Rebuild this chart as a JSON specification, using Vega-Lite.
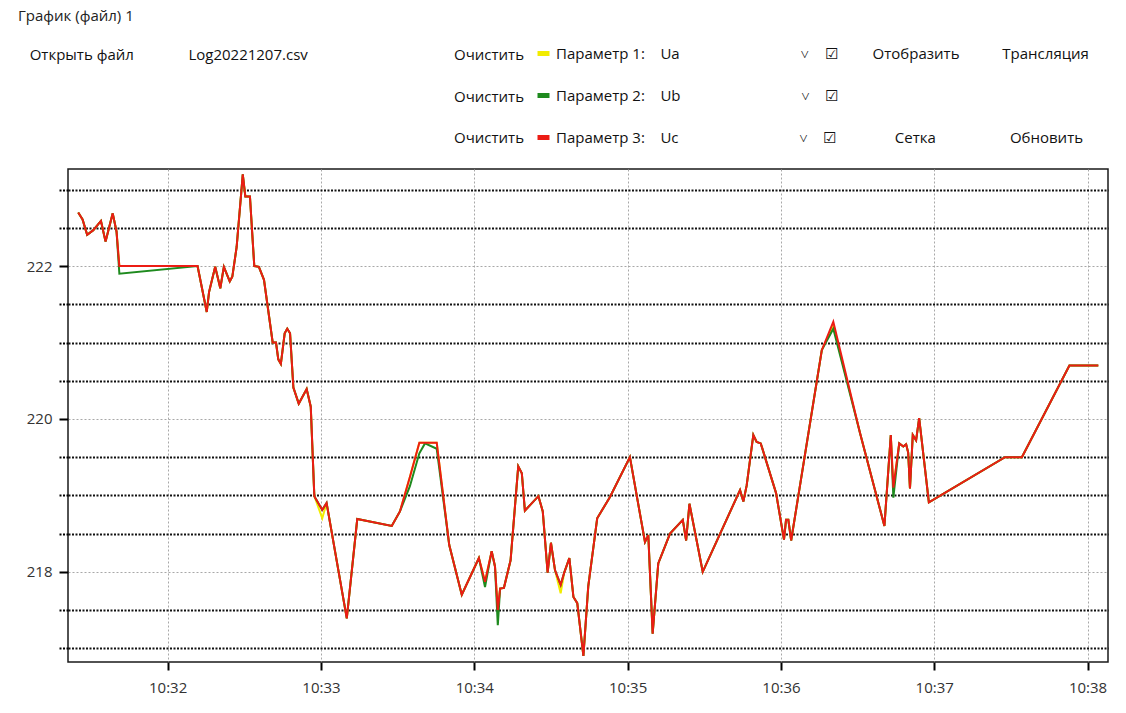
{
  "$schema": "https://vega.github.io/schema/vega-lite/v6.json",
  "width": 1040,
  "height": 493,
  "autosize": {"type": "none"},
  "padding": {"left": 68, "top": 169, "right": 18, "bottom": 51},
  "background": "white",
  "config": {
    "font": "Open Sans",
    "view": {"stroke": "#1a1a1a", "strokeWidth": 1.5}
  },
  "title": {
    "text": "График (файл) 1",
    "subtitle": "\u200b\u00a0\u00a0\u00a0Открыть файл\u00a0\u00a0\u00a0\u00a0\u00a0\u00a0\u00a0\u00a0\u00a0\u00a0\u00a0\u00a0\u00a0\u00a0Log20221207.csv",
    "anchor": "start",
    "frame": "group",
    "dx": -50,
    "offset": -18,
    "font": "Open Sans",
    "fontSize": 15,
    "fontWeight": "normal",
    "color": "#222222",
    "subtitleFont": "Open Sans",
    "subtitleFontSize": 15,
    "subtitleColor": "#111111",
    "subtitlePadding": 24
  },
  "data": {
    "values": [
      {"t": "2022-12-07T10:31:25.000Z", "Ua": 222.70, "Ub": 222.70, "Uc": 222.70},
      {"t": "2022-12-07T10:31:26.700Z", "Ua": 222.61, "Ub": 222.61, "Uc": 222.61},
      {"t": "2022-12-07T10:31:28.500Z", "Ua": 222.41, "Ub": 222.41, "Uc": 222.41},
      {"t": "2022-12-07T10:31:30.900Z", "Ua": 222.47, "Ub": 222.47, "Uc": 222.47},
      {"t": "2022-12-07T10:31:33.900Z", "Ua": 222.59, "Ub": 222.59, "Uc": 222.59},
      {"t": "2022-12-07T10:31:35.700Z", "Ua": 222.32, "Ub": 222.32, "Uc": 222.32},
      {"t": "2022-12-07T10:31:38.500Z", "Ua": 222.69, "Ub": 222.69, "Uc": 222.69},
      {"t": "2022-12-07T10:31:40.000Z", "Ua": 222.45, "Ub": 222.45, "Uc": 222.45},
      {"t": "2022-12-07T10:31:41.100Z", "Ua": 222.00, "Ub": 221.90, "Uc": 222.00},
      {"t": "2022-12-07T10:32:11.700Z", "Ua": 222.00, "Ub": 222.00, "Uc": 222.00},
      {"t": "2022-12-07T10:32:15.300Z", "Ua": 221.40, "Ub": 221.40, "Uc": 221.40},
      {"t": "2022-12-07T10:32:16.200Z", "Ua": 221.66, "Ub": 221.66, "Uc": 221.66},
      {"t": "2022-12-07T10:32:18.600Z", "Ua": 221.99, "Ub": 221.99, "Uc": 221.99},
      {"t": "2022-12-07T10:32:20.600Z", "Ua": 221.71, "Ub": 221.71, "Uc": 221.71},
      {"t": "2022-12-07T10:32:22.000Z", "Ua": 221.99, "Ub": 221.99, "Uc": 221.99},
      {"t": "2022-12-07T10:32:24.300Z", "Ua": 221.80, "Ub": 221.80, "Uc": 221.80},
      {"t": "2022-12-07T10:32:25.300Z", "Ua": 221.86, "Ub": 221.86, "Uc": 221.86},
      {"t": "2022-12-07T10:32:27.000Z", "Ua": 222.25, "Ub": 222.25, "Uc": 222.25},
      {"t": "2022-12-07T10:32:29.400Z", "Ua": 223.20, "Ub": 223.20, "Uc": 223.20},
      {"t": "2022-12-07T10:32:30.400Z", "Ua": 222.91, "Ub": 222.91, "Uc": 222.91},
      {"t": "2022-12-07T10:32:32.200Z", "Ua": 222.91, "Ub": 222.91, "Uc": 222.91},
      {"t": "2022-12-07T10:32:33.900Z", "Ua": 222.00, "Ub": 222.00, "Uc": 222.00},
      {"t": "2022-12-07T10:32:35.700Z", "Ua": 221.99, "Ub": 221.99, "Uc": 221.99},
      {"t": "2022-12-07T10:32:37.700Z", "Ua": 221.82, "Ub": 221.82, "Uc": 221.82},
      {"t": "2022-12-07T10:32:41.100Z", "Ua": 221.00, "Ub": 221.00, "Uc": 221.00},
      {"t": "2022-12-07T10:32:42.400Z", "Ua": 221.00, "Ub": 221.00, "Uc": 221.00},
      {"t": "2022-12-07T10:32:43.300Z", "Ua": 220.78, "Ub": 220.78, "Uc": 220.78},
      {"t": "2022-12-07T10:32:44.300Z", "Ua": 220.72, "Ub": 220.72, "Uc": 220.72},
      {"t": "2022-12-07T10:32:45.800Z", "Ua": 221.12, "Ub": 221.12, "Uc": 221.12},
      {"t": "2022-12-07T10:32:46.800Z", "Ua": 221.18, "Ub": 221.18, "Uc": 221.18},
      {"t": "2022-12-07T10:32:47.900Z", "Ua": 221.12, "Ub": 221.12, "Uc": 221.12},
      {"t": "2022-12-07T10:32:49.200Z", "Ua": 220.41, "Ub": 220.41, "Uc": 220.41},
      {"t": "2022-12-07T10:32:51.300Z", "Ua": 220.20, "Ub": 220.20, "Uc": 220.20},
      {"t": "2022-12-07T10:32:54.400Z", "Ua": 220.39, "Ub": 220.39, "Uc": 220.39},
      {"t": "2022-12-07T10:32:56.000Z", "Ua": 220.16, "Ub": 220.16, "Uc": 220.16},
      {"t": "2022-12-07T10:32:57.400Z", "Ua": 218.99, "Ub": 218.99, "Uc": 218.99},
      {"t": "2022-12-07T10:33:00.500Z", "Ua": 218.70, "Ub": 218.81, "Uc": 218.81},
      {"t": "2022-12-07T10:33:02.200Z", "Ua": 218.90, "Ub": 218.90, "Uc": 218.90},
      {"t": "2022-12-07T10:33:10.100Z", "Ua": 217.39, "Ub": 217.39, "Uc": 217.39},
      {"t": "2022-12-07T10:33:14.200Z", "Ua": 218.69, "Ub": 218.69, "Uc": 218.69},
      {"t": "2022-12-07T10:33:27.700Z", "Ua": 218.60, "Ub": 218.60, "Uc": 218.60},
      {"t": "2022-12-07T10:33:30.900Z", "Ua": 218.79, "Ub": 218.79, "Uc": 218.79},
      {"t": "2022-12-07T10:33:34.800Z", "Ua": 219.24, "Ub": 219.12, "Uc": 219.24},
      {"t": "2022-12-07T10:33:38.500Z", "Ua": 219.69, "Ub": 219.55, "Uc": 219.69},
      {"t": "2022-12-07T10:33:40.700Z", "Ua": 219.69, "Ub": 219.68, "Uc": 219.69},
      {"t": "2022-12-07T10:33:45.300Z", "Ua": 219.69, "Ub": 219.61, "Uc": 219.69},
      {"t": "2022-12-07T10:33:50.200Z", "Ua": 218.35, "Ub": 218.35, "Uc": 218.35},
      {"t": "2022-12-07T10:33:55.100Z", "Ua": 217.70, "Ub": 217.70, "Uc": 217.70},
      {"t": "2022-12-07T10:34:01.800Z", "Ua": 218.18, "Ub": 218.18, "Uc": 218.18},
      {"t": "2022-12-07T10:34:04.200Z", "Ua": 217.87, "Ub": 217.80, "Uc": 217.87},
      {"t": "2022-12-07T10:34:06.800Z", "Ua": 218.27, "Ub": 218.27, "Uc": 218.27},
      {"t": "2022-12-07T10:34:08.100Z", "Ua": 218.07, "Ub": 218.07, "Uc": 218.07},
      {"t": "2022-12-07T10:34:09.200Z", "Ua": 217.50, "Ub": 217.30, "Uc": 217.50},
      {"t": "2022-12-07T10:34:10.100Z", "Ua": 217.78, "Ub": 217.78, "Uc": 217.78},
      {"t": "2022-12-07T10:34:11.600Z", "Ua": 217.79, "Ub": 217.79, "Uc": 217.79},
      {"t": "2022-12-07T10:34:14.200Z", "Ua": 218.15, "Ub": 218.15, "Uc": 218.15},
      {"t": "2022-12-07T10:34:17.200Z", "Ua": 219.38, "Ub": 219.38, "Uc": 219.38},
      {"t": "2022-12-07T10:34:18.600Z", "Ua": 219.29, "Ub": 219.29, "Uc": 219.29},
      {"t": "2022-12-07T10:34:19.800Z", "Ua": 218.80, "Ub": 218.80, "Uc": 218.80},
      {"t": "2022-12-07T10:34:25.100Z", "Ua": 218.99, "Ub": 218.99, "Uc": 218.99},
      {"t": "2022-12-07T10:34:26.800Z", "Ua": 218.79, "Ub": 218.79, "Uc": 218.79},
      {"t": "2022-12-07T10:34:28.700Z", "Ua": 217.99, "Ub": 217.99, "Uc": 217.99},
      {"t": "2022-12-07T10:34:30.000Z", "Ua": 218.38, "Ub": 218.38, "Uc": 218.38},
      {"t": "2022-12-07T10:34:31.600Z", "Ua": 218.02, "Ub": 218.02, "Uc": 218.02},
      {"t": "2022-12-07T10:34:33.800Z", "Ua": 217.72, "Ub": 217.83, "Uc": 217.83},
      {"t": "2022-12-07T10:34:35.200Z", "Ua": 217.99, "Ub": 217.99, "Uc": 217.99},
      {"t": "2022-12-07T10:34:37.200Z", "Ua": 218.18, "Ub": 218.18, "Uc": 218.18},
      {"t": "2022-12-07T10:34:38.800Z", "Ua": 217.67, "Ub": 217.67, "Uc": 217.67},
      {"t": "2022-12-07T10:34:40.300Z", "Ua": 217.59, "Ub": 217.59, "Uc": 217.59},
      {"t": "2022-12-07T10:34:42.700Z", "Ua": 216.90, "Ub": 216.90, "Uc": 216.90},
      {"t": "2022-12-07T10:34:44.600Z", "Ua": 217.81, "Ub": 217.81, "Uc": 217.81},
      {"t": "2022-12-07T10:34:48.100Z", "Ua": 218.70, "Ub": 218.70, "Uc": 218.70},
      {"t": "2022-12-07T10:34:53.100Z", "Ua": 218.98, "Ub": 218.98, "Uc": 218.98},
      {"t": "2022-12-07T10:35:00.900Z", "Ua": 219.50, "Ub": 219.50, "Uc": 219.50},
      {"t": "2022-12-07T10:35:06.800Z", "Ua": 218.39, "Ub": 218.39, "Uc": 218.39},
      {"t": "2022-12-07T10:35:08.100Z", "Ua": 218.48, "Ub": 218.48, "Uc": 218.48},
      {"t": "2022-12-07T10:35:09.800Z", "Ua": 217.19, "Ub": 217.19, "Uc": 217.19},
      {"t": "2022-12-07T10:35:12.000Z", "Ua": 218.11, "Ub": 218.11, "Uc": 218.11},
      {"t": "2022-12-07T10:35:16.600Z", "Ua": 218.50, "Ub": 218.50, "Uc": 218.50},
      {"t": "2022-12-07T10:35:21.600Z", "Ua": 218.68, "Ub": 218.68, "Uc": 218.68},
      {"t": "2022-12-07T10:35:22.900Z", "Ua": 218.41, "Ub": 218.41, "Uc": 218.41},
      {"t": "2022-12-07T10:35:24.200Z", "Ua": 218.89, "Ub": 218.89, "Uc": 218.89},
      {"t": "2022-12-07T10:35:29.400Z", "Ua": 218.00, "Ub": 218.00, "Uc": 218.00},
      {"t": "2022-12-07T10:35:44.000Z", "Ua": 219.07, "Ub": 219.07, "Uc": 219.07},
      {"t": "2022-12-07T10:35:45.300Z", "Ua": 218.92, "Ub": 218.92, "Uc": 218.92},
      {"t": "2022-12-07T10:35:46.600Z", "Ua": 219.13, "Ub": 219.13, "Uc": 219.13},
      {"t": "2022-12-07T10:35:49.200Z", "Ua": 219.79, "Ub": 219.79, "Uc": 219.79},
      {"t": "2022-12-07T10:35:50.500Z", "Ua": 219.70, "Ub": 219.70, "Uc": 219.70},
      {"t": "2022-12-07T10:35:52.100Z", "Ua": 219.68, "Ub": 219.68, "Uc": 219.68},
      {"t": "2022-12-07T10:35:58.100Z", "Ua": 219.03, "Ub": 219.03, "Uc": 219.03},
      {"t": "2022-12-07T10:36:01.200Z", "Ua": 218.42, "Ub": 218.42, "Uc": 218.42},
      {"t": "2022-12-07T10:36:02.000Z", "Ua": 218.68, "Ub": 218.68, "Uc": 218.68},
      {"t": "2022-12-07T10:36:02.900Z", "Ua": 218.68, "Ub": 218.68, "Uc": 218.68},
      {"t": "2022-12-07T10:36:04.000Z", "Ua": 218.41, "Ub": 218.41, "Uc": 218.41},
      {"t": "2022-12-07T10:36:16.000Z", "Ua": 220.90, "Ub": 220.90, "Uc": 220.90},
      {"t": "2022-12-07T10:36:20.500Z", "Ua": 221.22, "Ub": 221.18, "Uc": 221.27},
      {"t": "2022-12-07T10:36:31.000Z", "Ua": 219.81, "Ub": 219.81, "Uc": 219.81},
      {"t": "2022-12-07T10:36:40.500Z", "Ua": 218.60, "Ub": 218.60, "Uc": 218.60},
      {"t": "2022-12-07T10:36:43.000Z", "Ua": 219.79, "Ub": 219.79, "Uc": 219.79},
      {"t": "2022-12-07T10:36:44.000Z", "Ua": 219.10, "Ub": 218.97, "Uc": 219.10},
      {"t": "2022-12-07T10:36:46.300Z", "Ua": 219.68, "Ub": 219.68, "Uc": 219.68},
      {"t": "2022-12-07T10:36:47.900Z", "Ua": 219.64, "Ub": 219.64, "Uc": 219.64},
      {"t": "2022-12-07T10:36:49.000Z", "Ua": 219.67, "Ub": 219.67, "Uc": 219.67},
      {"t": "2022-12-07T10:36:49.800Z", "Ua": 219.56, "Ub": 219.56, "Uc": 219.56},
      {"t": "2022-12-07T10:36:50.500Z", "Ua": 219.09, "Ub": 219.09, "Uc": 219.09},
      {"t": "2022-12-07T10:36:51.600Z", "Ua": 219.79, "Ub": 219.79, "Uc": 219.79},
      {"t": "2022-12-07T10:36:52.900Z", "Ua": 219.72, "Ub": 219.72, "Uc": 219.72},
      {"t": "2022-12-07T10:36:54.100Z", "Ua": 220.01, "Ub": 220.01, "Uc": 220.01},
      {"t": "2022-12-07T10:36:57.900Z", "Ua": 218.91, "Ub": 218.91, "Uc": 218.91},
      {"t": "2022-12-07T10:37:27.700Z", "Ua": 219.50, "Ub": 219.50, "Uc": 219.50},
      {"t": "2022-12-07T10:37:34.300Z", "Ua": 219.50, "Ub": 219.50, "Uc": 219.50},
      {"t": "2022-12-07T10:37:52.900Z", "Ua": 220.70, "Ub": 220.70, "Uc": 220.70},
      {"t": "2022-12-07T10:38:04.200Z", "Ua": 220.70, "Ub": 220.70, "Uc": 220.70}
    ]
  },
  "transform": [{"fold": ["Ua", "Ub", "Uc"], "as": ["s", "v"]}],
  "mark": {"type": "line", "strokeWidth": 2, "clip": true},
  "encoding": {
    "x": {
      "field": "t",
      "type": "temporal",
      "scale": {"type": "utc", "domain": [1670409081000, 1670409488000]},
      "axis": {
        "title": null,
        "format": "%H:%M",
        "values": [1670409120000, 1670409180000, 1670409240000, 1670409300000, 1670409360000, 1670409420000, 1670409480000],
        "domain": false,
        "ticks": true,
        "tickColor": "#000000",
        "tickSize": 8,
        "tickWidth": 2,
        "labelFont": "Open Sans",
        "labelFontSize": 15,
        "labelColor": "#333333",
        "labelPadding": 10,
        "grid": true,
        "gridColor": "#a8a8a8",
        "gridDash": [2, 2],
        "gridWidth": 1
      }
    },
    "y": {
      "field": "v",
      "type": "quantitative",
      "scale": {"domain": [216.82, 223.27], "nice": false, "zero": false},
      "axis": {
        "title": null,
        "values": [217, 217.5, 218, 218.5, 219, 219.5, 220, 220.5, 221, 221.5, 222, 222.5, 223],
        "format": ".0f",
        "labelExpr": "datum.value % 2 == 0 ? datum.label : ''",
        "domain": false,
        "tickColor": "#000000",
        "tickSize": 9,
        "tickWidth": 2,
        "tickDash": {"condition": {"test": "datum.value % 2 == 0", "value": [1, 0]}, "value": [2, 1.5]},
        "labelFont": "Open Sans",
        "labelFontSize": 15,
        "labelColor": "#333333",
        "labelPadding": 7,
        "grid": true,
        "gridColor": {"condition": {"test": "datum.value % 2 == 0", "value": "#a8a8a8"}, "value": "#111111"},
        "gridDash": {"condition": {"test": "datum.value % 2 == 0", "value": [2, 2]}, "value": [2, 1.5]},
        "gridWidth": {"condition": {"test": "datum.value % 2 == 0", "value": 1}, "value": 2}
      }
    },
    "color": {
      "field": "s",
      "type": "nominal",
      "scale": {"domain": ["Ua", "Ub", "Uc"], "range": ["#f2ec00", "#1e8a1e", "#ec1c14"]},
      "legend": {
        "orient": "none",
        "legendX": 386,
        "legendY": -124,
        "direction": "vertical",
        "title": ["Очистить", "Очистить", "Очистить"],
        "titleOrient": "left",
        "titleLineHeight": 41.5,
        "titleFont": "Open Sans",
        "titleFontSize": 15,
        "titleFontWeight": "normal",
        "titleColor": "#111111",
        "titlePadding": 11,
        "symbolType": "stroke",
        "symbolSize": 144,
        "symbolStrokeWidth": 5,
        "labelOffset": 4,
        "labelFont": "Open Sans",
        "labelFontSize": 15,
        "labelColor": "#111111",
        "labelLimit": 1000,
        "rowPadding": 21,
        "labelExpr": "datum.label == 'Ua' ? 'Параметр 1:\u00a0\u00a0\u00a0\u00a0Ua\u00a0\u00a0\u00a0\u00a0\u00a0\u00a0\u00a0\u00a0\u00a0\u00a0\u00a0\u00a0\u00a0\u00a0\u00a0\u00a0\u00a0\u00a0\u00a0\u00a0\u00a0\u00a0\u00a0\u00a0\u00a0\u00a0\u00a0\u00a0\u00a0\u00a0\u00a0˅\u00a0\u00a0\u00a0\u00a0☑\u00a0\u00a0\u00a0\u00a0\u00a0\u00a0\u00a0\u00a0\u00a0Отобразить\u00a0\u00a0\u00a0\u00a0\u00a0\u00a0\u00a0\u00a0\u00a0\u00a0\u00a0Трансляция' : datum.label == 'Ub' ? 'Параметр 2:\u00a0\u00a0\u00a0\u00a0Ub\u00a0\u00a0\u00a0\u00a0\u00a0\u00a0\u00a0\u00a0\u00a0\u00a0\u00a0\u00a0\u00a0\u00a0\u00a0\u00a0\u00a0\u00a0\u00a0\u00a0\u00a0\u00a0\u00a0\u00a0\u00a0\u00a0\u00a0\u00a0\u00a0\u00a0\u00a0˅\u00a0\u00a0\u00a0\u00a0☑' : 'Параметр 3:\u00a0\u00a0\u00a0\u00a0Uc\u00a0\u00a0\u00a0\u00a0\u00a0\u00a0\u00a0\u00a0\u00a0\u00a0\u00a0\u00a0\u00a0\u00a0\u00a0\u00a0\u00a0\u00a0\u00a0\u00a0\u00a0\u00a0\u00a0\u00a0\u00a0\u00a0\u00a0\u00a0\u00a0\u00a0\u00a0˅\u00a0\u00a0\u00a0\u00a0☑\u00a0\u00a0\u00a0\u00a0\u00a0\u00a0\u00a0\u00a0\u00a0\u00a0\u00a0\u00a0\u00a0\u00a0\u00a0Сетка\u00a0\u00a0\u00a0\u00a0\u00a0\u00a0\u00a0\u00a0\u00a0\u00a0\u00a0\u00a0\u00a0\u00a0\u00a0\u00a0\u00a0\u00a0\u00a0Обновить'"
      }
    }
  }
}
